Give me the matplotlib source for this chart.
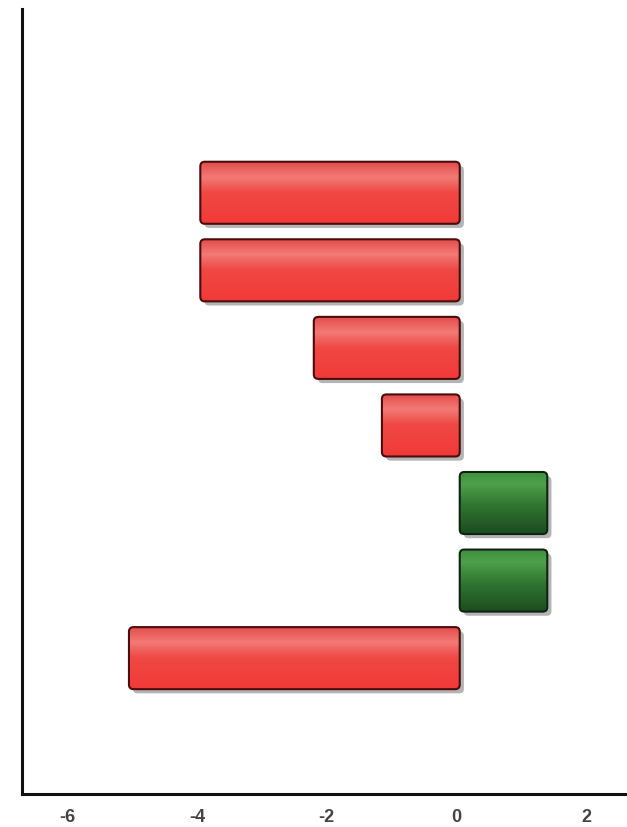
import numpy as np
from matplotlib import pyplot as plt
from matplotlib import patheffects
from matplotlib.patches import FancyBboxPatch
from matplotlib.colors import LinearSegmentedColormap

# bars from top to bottom
values = [-4.0, -4.0, -2.25, -1.2, 1.35, 1.35, -5.1]
positions = [7, 6, 5, 4, 3, 2, 1]
xticks = [-6, -4, -2, 0, 2]

red_cmap = LinearSegmentedColormap.from_list(
    "red", [(0.0, "#e24a48"), (0.25, "#f27a76"), (0.5, "#ef4844"),
            (1.0, "#f23a38")])
green_cmap = LinearSegmentedColormap.from_list(
    "green", [(0.0, "#3f8f3f"), (0.2, "#4ea04a"), (0.55, "#2f7430"),
              (1.0, "#1d4d20")])


def create_plot():
    fig = plt.figure(figsize=(6.27, 8.28), dpi=100)
    ax = fig.add_axes([0.035, 0.04, 0.962, 0.948])

    bars = ax.barh(positions, values, height=0.8, left=0.05, alpha=0)

    gradient = np.linspace(0, 1, 64).reshape(-1, 1)
    for bar, val in zip(bars, values):
        x, y = bar.get_x(), bar.get_y()
        w, h = bar.get_width(), bar.get_height()
        if w < 0:
            x, w = x + w, -w
        if val < 0:
            cmap, edge = red_cmap, "#4a0c0c"
        else:
            cmap, edge = green_cmap, "#0f2410"
        shadow = FancyBboxPatch((x, y), w, h,
                                boxstyle="round,pad=0,rounding_size=0.07",
                                mutation_aspect=0.84,
                                facecolor="white", edgecolor="none", zorder=2)
        shadow.set_path_effects([
            patheffects.SimplePatchShadow(offset=(3, -3), shadow_rgbFace="#444444",
                                          alpha=0.4),
            patheffects.Normal()])
        patch = FancyBboxPatch((x, y), w, h,
                               boxstyle="round,pad=0,rounding_size=0.07",
                               mutation_aspect=0.84,
                               facecolor="none", edgecolor=edge,
                               linewidth=1.5, zorder=3)
        ax.add_patch(shadow)
        ax.add_patch(patch)
        img = ax.imshow(gradient, cmap=cmap, aspect="auto",
                        extent=(x, x + w, y, y + h), origin="upper",
                        zorder=2.5)
        img.set_clip_path(patch)

    ax.set_xlim(-6.7, 2.6)
    ax.set_ylim(-0.75, 9.37)

    for side in ["top", "right"]:
        ax.spines[side].set_visible(False)
    for side in ["left", "bottom"]:
        ax.spines[side].set_linewidth(2.2)
        ax.spines[side].set_color("#111111")
    ax.set_yticks([])
    ax.set_xticks(xticks)
    ax.set_xticklabels([str(t) for t in xticks],
                       family=["Liberation Sans Narrow", "Liberation Sans"],
                       fontweight="bold", fontsize=13, color="#444444")
    ax.tick_params(axis="x", length=0, pad=10)

    fig.savefig("out.png", dpi=100)
    plt.close(fig)


def main():
    create_plot()


if __name__ == "__main__":
    main()
